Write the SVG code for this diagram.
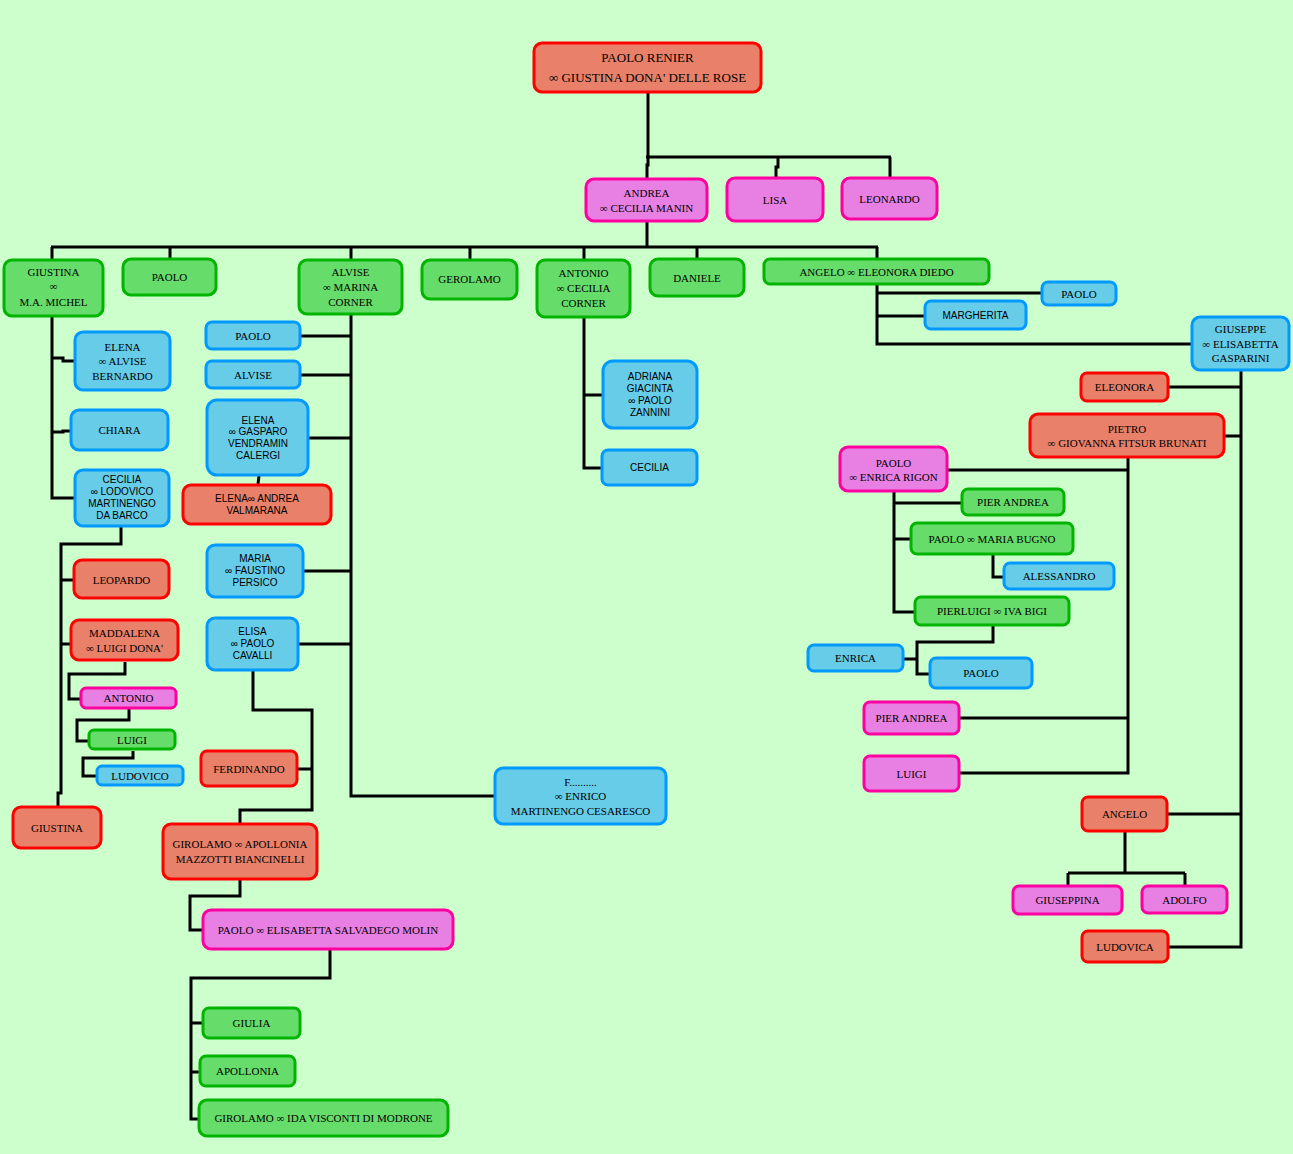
<svg xmlns="http://www.w3.org/2000/svg" width="1293" height="1154" viewBox="0 0 1293 1154">
<style>
rect{stroke-width:3}
.r{fill:#E8806A;stroke:#FF0000}
.p{fill:#E880E4;stroke:#FF00A0}
.g{fill:#66DD6A;stroke:#00B400}
.b{fill:#66CCE8;stroke:#0099FF}
text{fill:#000;text-anchor:middle}
.s{font-family:"Liberation Serif","DejaVu Serif",serif;font-size:11px}
.n{font-family:"Liberation Sans","DejaVu Sans",sans-serif;font-size:10px}
.big{font-family:"Liberation Serif","DejaVu Serif",serif;font-size:13px}
#conn path{fill:none;stroke:#000;stroke-width:3}
</style>
<rect x="0" y="0" width="1293" height="1154" fill="#CCFFCC" stroke="none"/>
<g id="conn">
<path d="M648,93 V157 M646,157 H891 M648,157 V165 H647 V178 M778,157 V167 H776 V177 M890,157 V177"/>
<path d="M647,222 V247 M51,247 H878 M52,247 V259 M170,247 V258 M351,247 V259 M470,247 V259 M584,247 V259 M697,247 V258 M877,247 V258"/>
<path d="M52,317 V498 H74 M52,358 H63 V361 H74 M52,432 H63 V431 H70"/>
<path d="M121,527 V544 H61 V793 H58 V806 M61,580 H73 M61,644 H70"/>
<path d="M125,662 V674 H69 V699 H80"/>
<path d="M129,709 V720 H77 V741 H88"/>
<path d="M133,751 V758 H83 V776 H96"/>
<path d="M351,315 V796 H494 M301,336 H351 M301,375 H351 M309,438 H351 M304,571 H351 M299,644 H351"/>
<path d="M259,476 L258,484"/>
<path d="M253,671 V710 H312 V810 H240 V823 M298,769 H312"/>
<path d="M240,880 V896 H190 V930 H202"/>
<path d="M330,950 V978 H191 V1119 H198 M191,1023 H202 M191,1072 H199"/>
<path d="M584,318 V468 H601 M584,395 H602"/>
<path d="M877,285 V344 H1191 M877,293 H1041 M877,316 H924"/>
<path d="M1241,371 V947 H1169 M1169,387 H1241 M1225,436 H1241 M1168,814 H1241"/>
<path d="M1128,458 V773 H960 M948,470 H1128 M960,718 H1128"/>
<path d="M894,492 V612 H914 M894,503 H961 M894,539 H910"/>
<path d="M993,555 V577 H1003"/>
<path d="M993,626 V642 H917 V674 H929 M904,659 H917"/>
<path d="M1125,832 V873 M1068,873 H1185 M1068,873 V885 M1185,873 V885"/>
</g>
<g id="paolo_renier"><rect class="r" x="534" y="43" width="227" height="49" rx="8"/><text class="big"><tspan x="647.5" y="62">PAOLO RENIER</tspan><tspan x="647.5" y="82">∞ GIUSTINA DONA' DELLE ROSE</tspan></text></g>
<g id="andrea"><rect class="p" x="586" y="179" width="121" height="42" rx="8"/><text class="s"><tspan x="646.5" y="197">ANDREA</tspan><tspan x="646.5" y="212">∞ CECILIA MANIN</tspan></text></g>
<g id="lisa"><rect class="p" x="727" y="178" width="96" height="43" rx="8"/><text class="s" x="775" y="204">LISA</text></g>
<g id="leonardo"><rect class="p" x="842" y="178" width="95" height="41" rx="8"/><text class="s" x="889.5" y="203">LEONARDO</text></g>
<g id="giustina_michel"><rect class="g" x="4" y="260" width="99" height="56" rx="8"/><text class="s"><tspan x="53.5" y="276">GIUSTINA</tspan><tspan x="53.5" y="290">∞</tspan><tspan x="53.5" y="306">M.A. MICHEL</tspan></text></g>
<g id="paolo_g"><rect class="g" x="123" y="259" width="93" height="36" rx="8"/><text class="s" x="169.5" y="281">PAOLO</text></g>
<g id="alvise_corner"><rect class="g" x="299" y="260" width="103" height="54" rx="8"/><text class="s"><tspan x="350.5" y="276">ALVISE</tspan><tspan x="350.5" y="291">∞ MARINA</tspan><tspan x="350.5" y="306">CORNER</tspan></text></g>
<g id="gerolamo"><rect class="g" x="422" y="260" width="95" height="39" rx="8"/><text class="s" x="469.5" y="283">GEROLAMO</text></g>
<g id="antonio_corner"><rect class="g" x="537" y="260" width="93" height="57" rx="8"/><text class="s"><tspan x="583.5" y="277">ANTONIO</tspan><tspan x="583.5" y="292">∞ CECILIA</tspan><tspan x="583.5" y="307">CORNER</tspan></text></g>
<g id="daniele"><rect class="g" x="650" y="259" width="94" height="37" rx="8"/><text class="s" x="697" y="282">DANIELE</text></g>
<g id="angelo_diedo"><rect class="g" x="764" y="259" width="225" height="25" rx="6"/><text class="s" x="876.5" y="276">ANGELO ∞ ELEONORA DIEDO</text></g>
<g id="paolo_b1"><rect class="b" x="1042" y="282" width="74" height="23" rx="6"/><text class="s" x="1079" y="298">PAOLO</text></g>
<g id="margherita"><rect class="b" x="925" y="301" width="101" height="28" rx="6"/><text class="n" x="975.5" y="319">MARGHERITA</text></g>
<g id="giuseppe"><rect class="b" x="1192" y="317" width="97" height="53" rx="8"/><text class="s"><tspan x="1240.5" y="333">GIUSEPPE</tspan><tspan x="1240.5" y="348">∞ ELISABETTA</tspan><tspan x="1240.5" y="362">GASPARINI</tspan></text></g>
<g id="eleonora"><rect class="r" x="1081" y="373" width="87" height="28" rx="6"/><text class="s" x="1124.5" y="391">ELEONORA</text></g>
<g id="pietro"><rect class="r" x="1030" y="414" width="194" height="43" rx="8"/><text class="s"><tspan x="1127" y="433">PIETRO</tspan><tspan x="1127" y="447">∞ GIOVANNA FITSUR BRUNATI</tspan></text></g>
<g id="paolo_rigon"><rect class="p" x="840" y="447" width="107" height="44" rx="8"/><text class="s"><tspan x="893.5" y="467">PAOLO</tspan><tspan x="893.5" y="481">∞ ENRICA RIGON</tspan></text></g>
<g id="pier_andrea_g"><rect class="g" x="962" y="489" width="102" height="26" rx="6"/><text class="s" x="1013" y="506">PIER ANDREA</text></g>
<g id="paolo_bugno"><rect class="g" x="911" y="523" width="162" height="31" rx="6"/><text class="s" x="992" y="543">PAOLO ∞ MARIA BUGNO</text></g>
<g id="alessandro"><rect class="b" x="1004" y="563" width="110" height="26" rx="6"/><text class="s" x="1059" y="580">ALESSANDRO</text></g>
<g id="pierluigi"><rect class="g" x="915" y="597" width="154" height="28" rx="6"/><text class="s" x="992" y="615">PIERLUIGI ∞ IVA BIGI</text></g>
<g id="enrica"><rect class="b" x="808" y="645" width="95" height="26" rx="6"/><text class="s" x="855.5" y="662">ENRICA</text></g>
<g id="paolo_b2"><rect class="b" x="930" y="658" width="102" height="30" rx="6"/><text class="s" x="981" y="677">PAOLO</text></g>
<g id="pier_andrea_p"><rect class="p" x="864" y="702" width="95" height="32" rx="6"/><text class="s" x="911.5" y="722">PIER ANDREA</text></g>
<g id="luigi_p"><rect class="p" x="864" y="756" width="95" height="35" rx="6"/><text class="s" x="911.5" y="778">LUIGI</text></g>
<g id="angelo_r"><rect class="r" x="1082" y="797" width="85" height="34" rx="6"/><text class="s" x="1124.5" y="818">ANGELO</text></g>
<g id="giuseppina"><rect class="p" x="1013" y="886" width="109" height="28" rx="6"/><text class="s" x="1067.5" y="904">GIUSEPPINA</text></g>
<g id="adolfo"><rect class="p" x="1142" y="886" width="85" height="27" rx="6"/><text class="s" x="1184.5" y="904">ADOLFO</text></g>
<g id="ludovica"><rect class="r" x="1082" y="931" width="86" height="31" rx="6"/><text class="s" x="1125" y="951">LUDOVICA</text></g>
<g id="elena_bernardo"><rect class="b" x="75" y="332" width="95" height="58" rx="8"/><text class="s"><tspan x="122.5" y="351">ELENA</tspan><tspan x="122.5" y="365">∞ ALVISE</tspan><tspan x="122.5" y="380">BERNARDO</tspan></text></g>
<g id="chiara"><rect class="b" x="71" y="410" width="97" height="40" rx="8"/><text class="s" x="119.5" y="434">CHIARA</text></g>
<g id="cecilia_martinengo"><rect class="b" x="75" y="470" width="94" height="56" rx="8"/><text class="n"><tspan x="122" y="483">CECILIA</tspan><tspan x="122" y="495">∞ LODOVICO</tspan><tspan x="122" y="507">MARTINENGO</tspan><tspan x="122" y="519">DA BARCO</tspan></text></g>
<g id="leopardo"><rect class="r" x="74" y="560" width="95" height="38" rx="8"/><text class="s" x="121.5" y="584">LEOPARDO</text></g>
<g id="maddalena"><rect class="r" x="71" y="620" width="107" height="40" rx="8"/><text class="s"><tspan x="124.5" y="637">MADDALENA</tspan><tspan x="124.5" y="652">∞ LUIGI DONA'</tspan></text></g>
<g id="antonio_p"><rect class="p" x="81" y="688" width="95" height="20" rx="5"/><text class="s" x="128.5" y="702">ANTONIO</text></g>
<g id="luigi_g"><rect class="g" x="89" y="730" width="86" height="19" rx="5"/><text class="s" x="132" y="744">LUIGI</text></g>
<g id="ludovico"><rect class="b" x="97" y="766" width="86" height="19" rx="5"/><text class="s" x="140" y="780">LUDOVICO</text></g>
<g id="giustina_r"><rect class="r" x="13" y="807" width="88" height="41" rx="8"/><text class="s" x="57" y="832">GIUSTINA</text></g>
<g id="paolo_b3"><rect class="b" x="206" y="322" width="94" height="27" rx="6"/><text class="s" x="253" y="340">PAOLO</text></g>
<g id="alvise_b"><rect class="b" x="206" y="361" width="94" height="27" rx="6"/><text class="s" x="253" y="379">ALVISE</text></g>
<g id="elena_vendramin"><rect class="b" x="207" y="400" width="101" height="75" rx="10"/><text class="n"><tspan x="258" y="424">ELENA</tspan><tspan x="258" y="435">∞ GASPARO</tspan><tspan x="258" y="447">VENDRAMIN</tspan><tspan x="258" y="459">CALERGI</tspan></text></g>
<g id="elena_valmarana"><rect class="r" x="183" y="485" width="148" height="39" rx="8"/><text class="n"><tspan x="257" y="502">ELENA∞ ANDREA</tspan><tspan x="257" y="514">VALMARANA</tspan></text></g>
<g id="maria_persico"><rect class="b" x="207" y="545" width="96" height="52" rx="8"/><text class="n"><tspan x="255" y="562">MARIA</tspan><tspan x="255" y="574">∞ FAUSTINO</tspan><tspan x="255" y="586">PERSICO</tspan></text></g>
<g id="elisa_cavalli"><rect class="b" x="207" y="618" width="91" height="52" rx="8"/><text class="n"><tspan x="252.5" y="635">ELISA</tspan><tspan x="252.5" y="647">∞ PAOLO</tspan><tspan x="252.5" y="659">CAVALLI</tspan></text></g>
<g id="ferdinando"><rect class="r" x="201" y="751" width="96" height="35" rx="6"/><text class="s" x="249" y="773">FERDINANDO</text></g>
<g id="f_cesaresco"><rect class="b" x="495" y="768" width="171" height="56" rx="8"/><text class="s"><tspan x="580.5" y="786">F..........</tspan><tspan x="580.5" y="800">∞ ENRICO</tspan><tspan x="580.5" y="815">MARTINENGO CESARESCO</tspan></text></g>
<g id="girolamo_apollonia"><rect class="r" x="163" y="824" width="154" height="55" rx="8"/><text class="s"><tspan x="240" y="848">GIROLAMO ∞ APOLLONIA</tspan><tspan x="240" y="863">MAZZOTTI BIANCINELLI</tspan></text></g>
<g id="paolo_molin"><rect class="p" x="203" y="910" width="250" height="39" rx="8"/><text class="s" x="328" y="934">PAOLO ∞ ELISABETTA SALVADEGO MOLIN</text></g>
<g id="giulia"><rect class="g" x="203" y="1008" width="97" height="30" rx="6"/><text class="s" x="251.5" y="1027">GIULIA</text></g>
<g id="apollonia"><rect class="g" x="200" y="1056" width="95" height="30" rx="6"/><text class="s" x="247.5" y="1075">APOLLONIA</text></g>
<g id="girolamo_visconti"><rect class="g" x="199" y="1100" width="249" height="36" rx="8"/><text class="s" x="323.5" y="1122">GIROLAMO ∞ IDA VISCONTI DI MODRONE</text></g>
<g id="adriana_zannini"><rect class="b" x="603" y="361" width="94" height="67" rx="10"/><text class="n"><tspan x="650" y="380">ADRIANA</tspan><tspan x="650" y="392">GIACINTA</tspan><tspan x="650" y="404">∞ PAOLO</tspan><tspan x="650" y="416">ZANNINI</tspan></text></g>
<g id="cecilia_b"><rect class="b" x="602" y="450" width="95" height="35" rx="6"/><text class="n" x="649.5" y="471">CECILIA</text></g>
</svg>
